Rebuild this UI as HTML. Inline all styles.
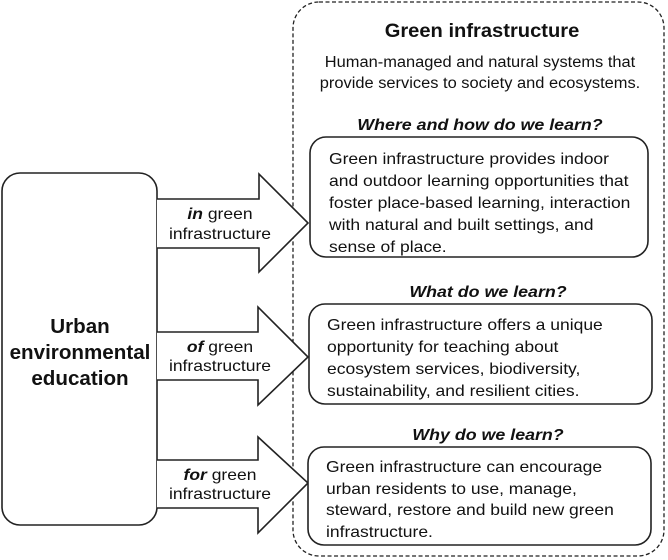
<!DOCTYPE html>
<html><head><meta charset="utf-8"><style>html,body{margin:0;padding:0;background:#fff}svg{display:block}</style></head>
<body>
<svg width="668" height="560" xmlns="http://www.w3.org/2000/svg" font-family="Liberation Sans, sans-serif" fill="#111">
<rect x="293" y="2" width="371" height="554" rx="26" fill="none" stroke="#222" stroke-width="1.3" stroke-dasharray="4,2.5"/>
<rect x="2" y="173" width="155" height="352" rx="18" fill="#fff" stroke="#222" stroke-width="1.6"/>
<g fill="#fff" stroke="#222" stroke-width="1.6">
<path d="M157 199 H259 V174 L308 223 L259 272 V248 H157"/>
<path d="M157 332 H258 V307 L308 357 L258 405 V380 H157"/>
<path d="M157 460 H258 V437 L308 483 L258 533 V508 H157"/>
</g>
<g font-size="15.5" text-anchor="middle">
<g transform="translate(220,0) scale(1.13,1) translate(-220,0)">
<text x="220" y="219"><tspan font-weight="bold" font-style="italic">in</tspan> green</text>
<text x="220" y="239">infrastructure</text></g>
<g transform="translate(220,0) scale(1.13,1) translate(-220,0)">
<text x="220" y="352"><tspan font-weight="bold" font-style="italic">of</tspan> green</text>
<text x="220" y="371">infrastructure</text></g>
<g transform="translate(220,0) scale(1.13,1) translate(-220,0)">
<text x="220" y="480"><tspan font-weight="bold" font-style="italic">for</tspan> green</text>
<text x="220" y="499">infrastructure</text></g>
</g>
<g font-size="20" font-weight="bold" text-anchor="middle" transform="translate(80,0) scale(1.03,1) translate(-80,0)">
<text x="80" y="333">Urban</text>
<text x="80" y="359">environmental</text>
<text x="80" y="385">education</text>
</g>
<g transform="translate(482,0) scale(1.06,1) translate(-482,0)">
<text x="482" y="37" font-size="19" font-weight="bold" text-anchor="middle">Green infrastructure</text></g>
<g font-size="15.5" text-anchor="middle" transform="translate(480,0) scale(1.06,1) translate(-480,0)">
<text x="480" y="67">Human-managed and natural systems that</text>
<text x="480" y="88">provide services to society and ecosystems.</text>
</g>
<g font-size="15.5" font-weight="bold" font-style="italic" text-anchor="middle">
<g transform="translate(480,0) scale(1.15,1) translate(-480,0)"><text x="480" y="130">Where and how do we learn?</text></g>
<g transform="translate(488,0) scale(1.15,1) translate(-488,0)"><text x="488" y="297">What do we learn?</text></g>
<g transform="translate(488,0) scale(1.15,1) translate(-488,0)"><text x="488" y="440">Why do we learn?</text></g>
</g>
<g fill="#fff" stroke="#222" stroke-width="1.6">
<rect x="310" y="137" width="338" height="120" rx="16"/>
<rect x="309" y="304" width="343" height="100" rx="16"/>
<rect x="308" y="447" width="343" height="98" rx="16"/>
</g>
<g font-size="15.5">
<g transform="translate(329,0) scale(1.13,1) translate(-329,0)">
<text x="329" y="164">Green infrastructure provides indoor</text>
<text x="329" y="186">and outdoor learning opportunities that</text>
<text x="329" y="208">foster place-based learning, interaction</text>
<text x="329" y="230">with natural and built settings, and</text>
<text x="329" y="252">sense of place.</text></g>
<g transform="translate(327,0) scale(1.13,1) translate(-327,0)">
<text x="327" y="330">Green infrastructure offers a unique</text>
<text x="327" y="352">opportunity for teaching about</text>
<text x="327" y="374">ecosystem services, biodiversity,</text>
<text x="327" y="396">sustainability, and resilient cities.</text></g>
<g transform="translate(326,0) scale(1.13,1) translate(-326,0)">
<text x="326" y="472">Green infrastructure can encourage</text>
<text x="326" y="494">urban residents to use, manage,</text>
<text x="326" y="515">steward, restore and build new green</text>
<text x="326" y="537">infrastructure.</text></g>
</g>
</svg>
</body></html>
